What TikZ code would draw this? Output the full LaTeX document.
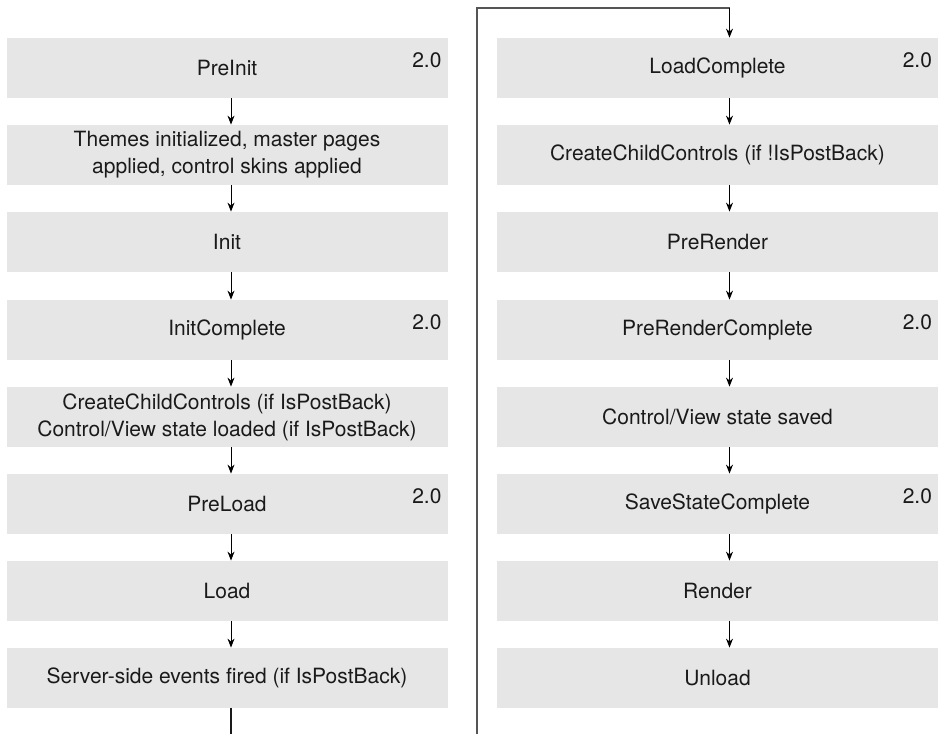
\documentclass[tikz,border=0pt]{standalone}
\usepackage{fontspec}
\setmainfont{TeX Gyre Heros}
\usetikzlibrary{arrows.meta}
\definecolor{boxgray}{HTML}{E6E6E6}
\definecolor{loopgray}{HTML}{555555}
\definecolor{ink}{HTML}{1A1A1A}

\begin{document}
\begin{tikzpicture}[x=0.5pt,y=-0.5pt,
  stage/.style={shape=rectangle,fill=boxgray,minimum width=220.5pt,minimum height=30pt,
    inner sep=0pt,align=center,text=ink,font=\fontsize{10.5}{13.5}\selectfont},
  ver/.style={anchor=north east,inner sep=0pt,text=ink,font=\fontsize{10.5}{12}\selectfont},
  flow/.style={draw=black,line width=0.5pt,-{Stealth[length=4.5pt,width=3.5pt]}},
  loopline/.style={draw=loopgray,line width=0.9pt}]
  \useasboundingbox (0,0) rectangle (938,734);

  % left column
  \path (227,68) node [stage] (pi) {PreInit}
  (227,155) node [stage] (th) {Themes initialized, master pages\\applied, control skins applied}
  (227,242) node [stage] (in) {Init}
  (227,330) node [stage] (ic) {InitComplete}
  (227,417) node [stage] (cc) {CreateChildControls (if IsPostBack)\\Control/View state loaded (if IsPostBack)}
  (227,504) node [stage] (pl) {PreLoad}
  (227,591) node [stage] (ld) {Load}
  (227,678) node [stage] (se) {Server-side events fired (if IsPostBack)};

  % right column
  \path (717.5,68) node [stage] (lc) {LoadComplete}
  (717.5,155) node [stage] (cn) {CreateChildControls (if !IsPostBack)}
  (717.5,242) node [stage] (pr) {PreRender}
  (717.5,330) node [stage] (pc) {PreRenderComplete}
  (717.5,417) node [stage] (vs) {Control/View state saved}
  (717.5,504) node [stage] (sc) {SaveStateComplete}
  (717.5,591) node [stage] (rd) {Render}
  (717.5,678) node [stage] (ul) {Unload};

  % version marks
  \foreach \b/\n in {pi/v1,ic/v2,pl/v3,lc/v4,pc/v5,sc/v6}
    \node [ver] (\n) at ([xshift=-3pt,yshift=-7.5pt]\b.north east) {2.0};

  % arrows
  \foreach \a/\b in {pi/th,th/in,in/ic,ic/cc,cc/pl,pl/ld,ld/se}
    \draw[flow] ([xshift=2pt]\a.south) -- ([xshift=2pt]\b.north);
  \foreach \a/\b in {lc/cn,cn/pr,pr/pc,pc/vs,vs/sc,sc/rd,rd/ul}
    \draw[flow] ([xshift=6pt]\a.south) -- ([xshift=6pt]\b.north);

  % wrap from the left column into the right one
  \coordinate (lb) at (231,734);
  \coordinate (rb) at (477,734);
  \coordinate (tp) at (729.5,8);
  \draw[draw=ink,line width=0.6pt] ([xshift=2pt]se.south) -- (lb);
  \draw[loopline] (rb) |- (tp);
  \draw[flow] (tp) -- ([xshift=6pt]lc.north);
\end{tikzpicture}
\end{document}
